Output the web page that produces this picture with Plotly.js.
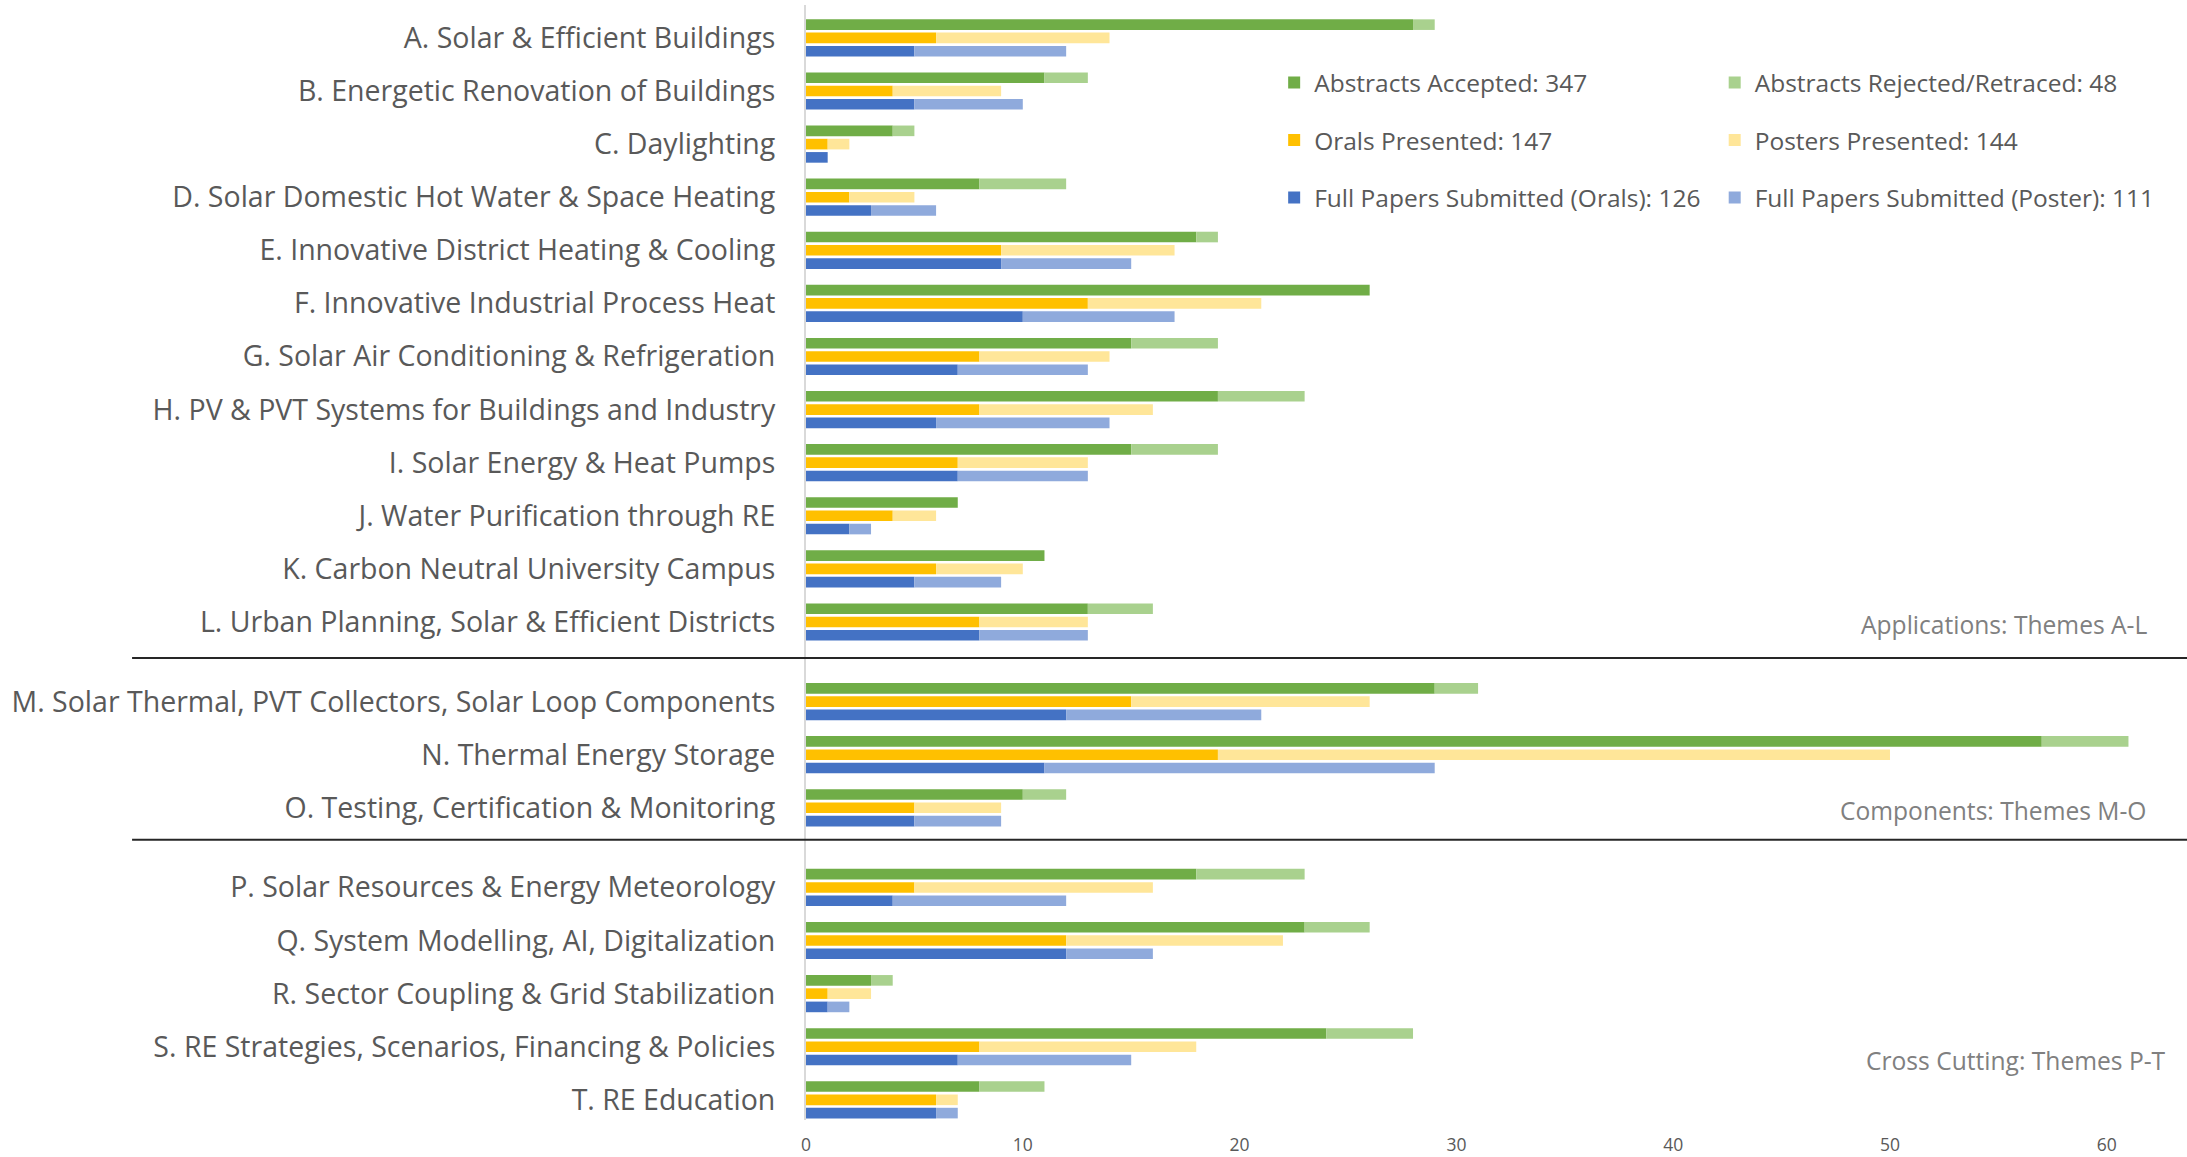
<!DOCTYPE html>
<html>
<head>
<meta charset="utf-8">
<script src="https://cdn.plot.ly/plotly-3.0.1.min.js"></script>
<style>html,body{margin:0;padding:0;background:#fff;}#chart{width:2187px;height:1157px;}</style>
</head>
<body>
<div id="chart"></div>
<script>
// ---------- data ----------
var categories = [
  "A. Solar & Efficient Buildings",
  "B. Energetic Renovation of Buildings",
  "C. Daylighting",
  "D. Solar Domestic Hot Water & Space Heating",
  "E. Innovative District Heating & Cooling",
  "F. Innovative Industrial Process Heat",
  "G. Solar Air Conditioning & Refrigeration",
  "H. PV & PVT Systems for Buildings and Industry",
  "I. Solar Energy & Heat Pumps",
  "J. Water Purification through RE",
  "K. Carbon Neutral University Campus",
  "L. Urban Planning, Solar & Efficient Districts",
  "M. Solar Thermal, PVT Collectors, Solar Loop Components",
  "N. Thermal Energy Storage",
  "O. Testing, Certification & Monitoring",
  "P. Solar Resources & Energy Meteorology",
  "Q. System Modelling, AI, Digitalization",
  "R. Sector Coupling & Grid Stabilization",
  "S. RE Strategies, Scenarios, Financing & Policies",
  "T. RE Education"
];
var sectionNames = ["Applications: Themes A-L", "Components: Themes M-O", "Cross Cutting: Themes P-T"];
var sectionSizes = [12, 3, 5];

var abstractsAccepted = [28, 11, 4, 8, 18, 26, 15, 19, 15, 7, 11, 13, 29, 57, 10, 18, 23, 3, 24, 8];
var abstractsRejected = [1, 2, 1, 4, 1, 0, 4, 4, 4, 0, 0, 3, 2, 4, 2, 5, 3, 1, 4, 3];
var oralsPresented    = [6, 4, 1, 2, 9, 13, 8, 8, 7, 4, 6, 8, 15, 19, 5, 5, 12, 1, 8, 6];
var postersPresented  = [8, 5, 1, 3, 8, 8, 6, 8, 6, 2, 4, 5, 11, 31, 4, 11, 10, 2, 10, 1];
var fullPapersOrals   = [5, 5, 1, 3, 9, 10, 7, 6, 7, 2, 5, 8, 12, 11, 5, 4, 12, 1, 7, 6];
var fullPapersPosters = [7, 5, 0, 3, 6, 7, 6, 8, 6, 1, 4, 5, 9, 18, 4, 8, 4, 1, 8, 1];
var xTicks = [0, 10, 20, 30, 40, 50, 60];

// ---------- helpers ----------
function sum(a){ return a.reduce(function(s,v){return s+v;},0); }

var FAMILY = "'Open Sans'";
var FONT = "'Open Sans', Lato, sans-serif";
var TXT = "#595959";

// pick a font size so that a text has a given pixel width
var cv = document.createElement("canvas").getContext("2d");
function fit(text, targetW){
  cv.font = "100px " + FAMILY;
  var w = cv.measureText(text).width;
  return Math.round(1000 * targetW / w) / 10;
}
var labelSize  = fit(categories[12], 764);
var legendSize = fit("Full Papers Submitted (Orals): 126", 386);
var annSize    = fit(sectionNames[0], 286);
var tickSize   = fit("10", 20);

// category positions with a gap between sections
var pos = [];
(function(){
  var p = 0;
  sectionSizes.forEach(function(n){
    for (var i = 0; i < n; i++) { pos.push(p); p += 1; }
    p += 0.5;
  });
})();
var rowOff = 0.25, barW = 0.2;
function shift(d){ return pos.map(function(p){ return p + d; }); }

function bar(name, x, base, y, color, legend, group){
  var t = {
    type: "bar", orientation: "h", name: name,
    x: x, y: y, width: barW,
    marker: {color: color, line: {width: 0}},
    legend: legend, legendgroup: group,
    hoverinfo: "x+name"
  };
  if (base) t.base = base;
  return t;
}

var traces = [
  bar("Abstracts Accepted: " + sum(abstractsAccepted), abstractsAccepted, null, shift(-rowOff), "#70AD47", "legend", "g1"),
  bar("Orals Presented: " + sum(oralsPresented), oralsPresented, null, shift(0), "#FFC000", "legend", "g2"),
  bar("Full Papers Submitted (Orals): " + sum(fullPapersOrals), fullPapersOrals, null, shift(rowOff), "#4472C4", "legend", "g3"),
  bar("Abstracts Rejected/Retraced: " + sum(abstractsRejected), abstractsRejected, abstractsAccepted, shift(-rowOff), "#A9D18E", "legend2", "g4"),
  bar("Posters Presented: " + sum(postersPresented), postersPresented, oralsPresented, shift(0), "#FFE699", "legend2", "g5"),
  bar("Full Papers Submitted (Poster): " + sum(fullPapersPosters), fullPapersPosters, fullPapersOrals, shift(rowOff), "#8FAADC", "legend2", "g6")
];

// plot area geometry (px)
var W = 2187, H = 1157, mL = 806, mR = 0, mT = 5, mB = 37;
var plotH = H - mT - mB;

// legend rows: centres at ~82 px, pitch ~57.5 px
var itemH = 1.3 * legendSize + 3;
var legendGap = 57.5 - itemH;
var legendTopPx = 81.5 - (itemH / 2 + 4);
var legendY = 1 - (legendTopPx - mT) / plotH;

var legendCommon = {
  orientation: "v", yanchor: "top", xanchor: "left",
  bgcolor: "rgba(0,0,0,0)", borderwidth: 0,
  font: {family: FONT, size: legendSize, color: TXT},
  tracegroupgap: legendGap, traceorder: "grouped", itemclick: false, itemdoubleclick: false
};

var annX = [0.868, 0.860, 0.876];
var annY = [0.4448, 0.278, 0.0532];
var annotations = sectionNames.map(function(s, i){
  return {text: s, xref: "paper", yref: "paper", x: annX[i], y: annY[i],
          xanchor: "center", yanchor: "middle", showarrow: false,
          font: {family: FONT, size: annSize, color: "#808080"}};
});

var sepY = [11.68, 15.1];
var shapes = sepY.map(function(y){
  return {type: "line", xref: "paper", yref: "y", x0: -0.488, x1: 1, y0: y, y1: y,
          line: {color: "#262626", width: 2}};
});

var layout = {
  width: W, height: H,
  margin: {l: mL, r: mR, t: mT, b: mB},
  paper_bgcolor: "#ffffff", plot_bgcolor: "#ffffff",
  barmode: "overlay",
  showlegend: true,
  legend: Object.assign({x: 0.339, y: legendY}, legendCommon),
  legend2: Object.assign({x: 0.658, y: legendY}, legendCommon),
  xaxis: {
    range: [0, 63.7], tickvals: xTicks, ticktext: xTicks.map(String),
    showgrid: false, zeroline: false, showline: false,
    ticks: "outside", ticklen: 9, tickcolor: "rgba(0,0,0,0)",
    tickfont: {family: FONT, size: tickSize, color: TXT}
  },
  yaxis: {
    range: [20.38, -0.62], tickvals: pos, ticktext: categories,
    showgrid: false, zeroline: false,
    showline: true, linecolor: "#d9d9d9", linewidth: 2,
    ticks: "outside", ticklen: 23, tickcolor: "rgba(0,0,0,0)",
    tickfont: {family: FONT, size: labelSize, color: TXT}
  },
  annotations: annotations,
  shapes: shapes
};

Plotly.newPlot("chart", traces, layout, {displayModeBar: false});
</script>
</body>
</html>
